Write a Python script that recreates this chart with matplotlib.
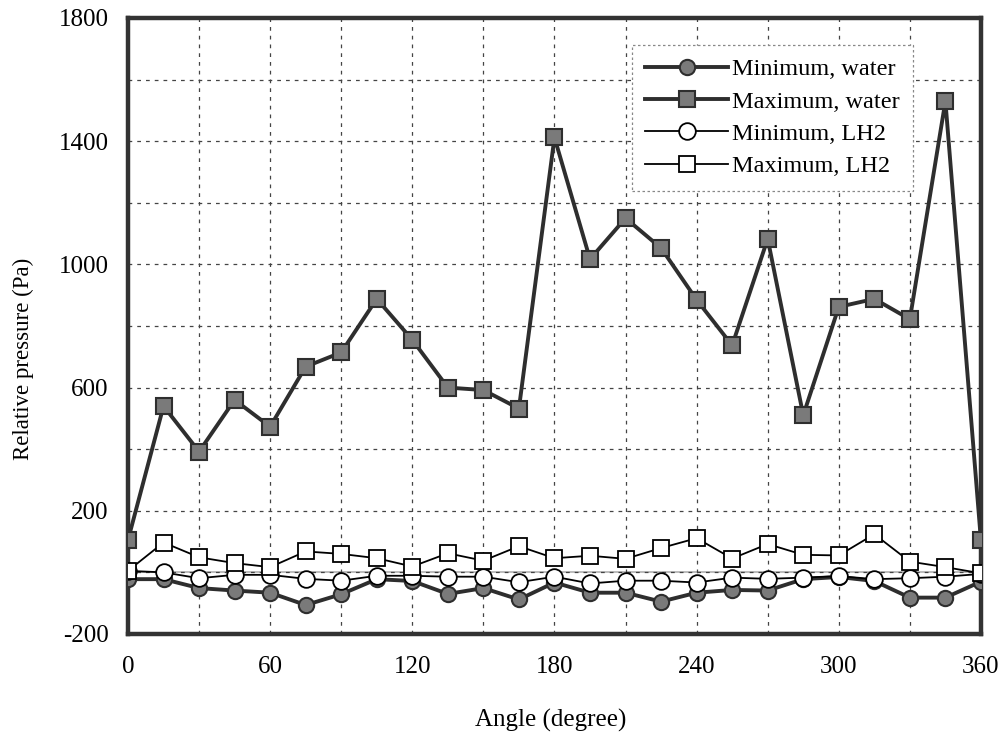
import matplotlib
matplotlib.use("Agg")
import matplotlib.pyplot as plt
import numpy as np

# angles every 15 degrees
angle = [0, 15, 30, 45, 60, 75, 90, 105, 120, 135, 150, 165, 180,
         195, 210, 225, 240, 255, 270, 285, 300, 315, 330, 345, 360]

max_water = [105, 540, 392, 560, 473, 668, 714, 888, 755, 600, 592, 532, 1412,
             1017, 1150, 1053, 885, 737, 1083, 510, 862, 888, 822, 1530, 104]
min_water = [-22, -22, -51, -59, -66, -106, -71, -22, -28, -70, -51, -88, -33,
             -66, -66, -95, -66, -57, -59, -22, -15, -28, -82, -82, -30]
max_lh2 = [5, 97, 49, 30, 17, 68, 60, 46, 19, 62, 38, 85, 46,
           54, 44, 79, 111, 45, 92, 57, 55, 124, 35, 17, -3]
min_lh2 = [5, 0, -19, -8, -8, -21, -27, -11, -11, -14, -14, -32, -14,
           -36, -27, -27, -33, -17, -21, -17, -12, -22, -19, -14, -5]

series_labels = ["Minimum, water", "Maximum, water", "Minimum, LH2", "Maximum, LH2"]

plt.rcParams['font.family'] = ['Liberation Serif', 'DejaVu Serif']
plt.rcParams['axes.unicode_minus'] = False

fig = plt.figure(figsize=(10.03, 7.5), dpi=100)
ax = fig.add_axes([0.1276, 0.1547, 0.8504, 0.8213])

dark = '#2e2e2e'
ax.plot(angle, min_water, color=dark, lw=2.8, marker='o', ms=11,
        mfc='#7a7a7a', mec=dark, mew=1.5, label=series_labels[0], zorder=3)
ax.plot(angle, max_water, color=dark, lw=2.8, marker='s', ms=12,
        mfc='#7a7a7a', mec=dark, mew=1.5, label=series_labels[1], zorder=3)
ax.plot(angle, min_lh2, color='black', lw=1.3, marker='o', ms=12,
        mfc='white', mec='black', mew=1.3, label=series_labels[2], zorder=4)
ax.plot(angle, max_lh2, color='black', lw=1.3, marker='s', ms=12,
        mfc='white', mec='black', mew=1.3, label=series_labels[3], zorder=4)

ax.set_xlim(0, 360)
ax.set_ylim(-200, 1800)
ax.set_xticks(np.arange(0, 361, 60))
ax.set_xticks(np.arange(30, 361, 60), minor=True)
ax.set_yticks(np.arange(-200, 1801, 400))
ax.set_yticks(np.arange(0, 1801, 400), minor=True)
ax.tick_params(which='both', length=0)
ax.tick_params(axis='y', labelsize=18, pad=14)
ax.tick_params(axis='x', labelsize=18, pad=16)

ax.grid(True, which='both', linestyle=(0, (3, 4)), color='#444444', lw=0.9, zorder=1)
# the zero line shows as a light solid line
ax.axhline(0, color='#b0b0b0', lw=1.2, zorder=1.5)

for s in ax.spines.values():
    s.set_linewidth(3.2)
    s.set_color('#333333')

ax.set_ylabel("Relative pressure (Pa)", fontsize=16.5)
ax.yaxis.set_label_coords(-0.11, 0.447)
ax.set_xlabel("Angle (degree)", fontsize=18)
ax.xaxis.set_label_coords(0.495, -0.122)

leg = ax.legend(loc='upper right', bbox_to_anchor=(0.92, 0.956), borderaxespad=0,
                fontsize=17.5, numpoints=1, handlelength=3.4, handletextpad=0.15,
                labelspacing=0.42, fancybox=False, framealpha=1, borderpad=0.55)
leg.get_frame().set_linestyle((0, (2, 2)))
leg.get_frame().set_edgecolor('#888888')
leg.get_frame().set_linewidth(0.9)
leg.set_zorder(5)

fig.savefig("out.png", dpi=100, facecolor='white')
